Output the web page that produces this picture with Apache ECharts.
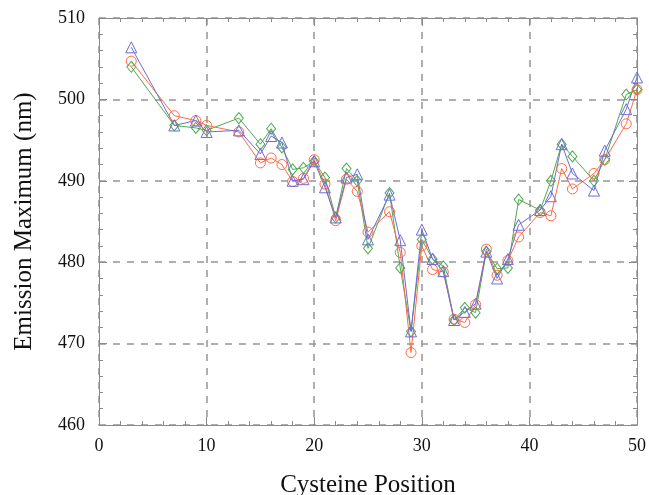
<!DOCTYPE html>
<html>
<head>
<meta charset="utf-8">
<script src="https://cdn.jsdelivr.net/npm/echarts@6/dist/echarts.min.js"></script>
<style>
  html, body { margin: 0; padding: 0; background: #fff; }
  #chart { width: 649px; height: 495px; }
</style>
</head>
<body>
<div id="chart"></div>
<script>
// cysteine positions (x)
const positions = [3, 7, 9, 10, 13, 15, 16, 17, 18, 19, 20, 21, 22, 23, 24, 25, 27, 28, 29,
  30, 31, 32, 33, 34, 35, 36, 37, 38, 39, 41, 42, 43, 44, 46, 47, 49, 50];

// emission maxima (nm)
const blueTri = [506.4, 496.8, 497.4, 496.0, 496.2, 493.3, 495.5, 494.7, 490.0, 490.2, 492.4, 489.2, 485.5, 490.4, 490.8, 482.8, 488.3, 482.7, 471.5,
  484.0, 480.4, 478.9, 472.9, 473.9, 474.9, 481.3, 478.0, 480.4, 484.6, 486.4, 488.1, 494.5, 490.9, 488.8, 493.7, 498.8, 502.7];
const orangeCirc = [504.7, 498.0, 497.4, 496.8, 496.0, 492.2, 492.8, 492.0, 489.9, 490.3, 492.6, 489.6, 485.1, 490.2, 488.7, 483.7, 486.2, 481.2, 468.9,
  482.0, 479.1, 478.8, 473.0, 472.6, 474.8, 481.6, 478.4, 480.2, 483.1, 486.1, 485.7, 491.5, 489.0, 490.9, 492.6, 497.0, 501.2];
const greenDia = [504.0, 496.8, 496.5, 496.2, 497.7, 494.5, 496.4, 494.1, 491.4, 491.6, 492.4, 490.4, 485.5, 491.5, 490.0, 481.7, 488.5, 479.3, 471.5,
  482.8, 480.4, 479.5, 472.9, 474.4, 473.8, 481.3, 479.2, 479.3, 487.7, 486.4, 490.0, 494.5, 493.0, 490.0, 492.6, 500.6, 501.2];

const xTicks = [0, 10, 20, 30, 40, 50];
const yTicks = [460, 470, 480, 490, 500, 510];

const frameColor = '#8a8a8a';
const serif = '"Liberation Serif", "DejaVu Serif", serif';
const gridLine = { show: true, lineStyle: { color: '#9c9c9c', type: [7, 7], width: 1.6 } };

function pairs(ys) {
  return positions.map((x, i) => [x, ys[i]]);
}

function axisCommon(showLabel) {
  return {
    axisLine: { show: true, onZero: false, lineStyle: { color: frameColor, width: 1 } },
    axisTick: { show: true, inside: true, length: 8, lineStyle: { color: frameColor } },
    minorTick: { show: true, splitNumber: 5, length: 4, lineStyle: { color: frameColor } },
    axisLabel: { show: showLabel, color: '#111', fontFamily: serif, fontSize: 18 },
  };
}

function makeSeries(name, ys, symbol, size, color) {
  return {
    name,
    type: 'line',
    data: pairs(ys),
    symbol,
    symbolSize: size,
    showAllSymbol: true,
    lineStyle: { color, width: 1 },
    itemStyle: { color: 'rgba(0,0,0,0)', borderColor: color, borderWidth: 1 },
    emphasis: { disabled: true },
    animation: false,
  };
}

const chart = echarts.init(document.getElementById('chart'));

chart.setOption({
  backgroundColor: '#fff',
  grid: { left: 99, right: 12, top: 18, bottom: 70, outerBoundsMode: 'none', containLabel: false },
  xAxis: [
    {
      type: 'value', min: xTicks[0], max: xTicks[xTicks.length - 1], interval: 10,
      position: 'bottom',
      name: 'Cysteine Position', nameLocation: 'middle', nameGap: 48,
      nameTextStyle: { color: '#111', fontFamily: serif, fontSize: 25 },
      splitLine: gridLine,
      ...axisCommon(true),
      axisLabel: { color: '#111', fontFamily: serif, fontSize: 18, margin: 12 },
    },
    {
      type: 'value', min: xTicks[0], max: xTicks[xTicks.length - 1], interval: 10,
      position: 'top', splitLine: { show: false },
      ...axisCommon(false),
    },
  ],
  yAxis: [
    {
      type: 'value', min: yTicks[0], max: yTicks[yTicks.length - 1], interval: 10,
      position: 'left',
      name: 'Emission Maximum (nm)', nameLocation: 'middle', nameGap: 62,
      nameTextStyle: { color: '#111', fontFamily: serif, fontSize: 25 },
      splitLine: gridLine,
      ...axisCommon(true),
      axisLabel: { color: '#111', fontFamily: serif, fontSize: 18, margin: 14 },
    },
    {
      type: 'value', min: yTicks[0], max: yTicks[yTicks.length - 1], interval: 10,
      position: 'right', splitLine: { show: false },
      ...axisCommon(false),
    },
  ],
  series: [
    makeSeries('green', greenDia, 'diamond', [9, 11], '#4daa4d'),
    makeSeries('orange', orangeCirc, 'circle', 10, '#ff6a45'),
    makeSeries('blue', blueTri, 'triangle', 11, '#6c6cd8'),
  ],
});
</script>
</body>
</html>
